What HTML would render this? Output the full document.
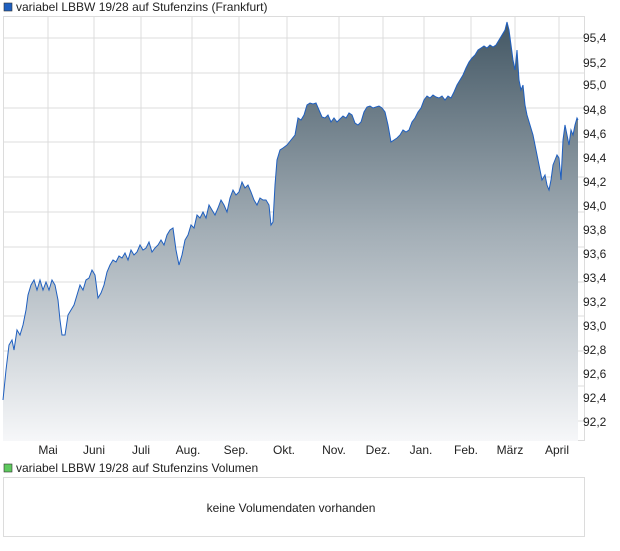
<!DOCTYPE html>
<html><head><meta charset="utf-8"><style>
body{margin:0;background:#fff;width:620px;height:546px;overflow:hidden;font-family:"Liberation Sans",sans-serif}
</style></head><body>
<svg width="620" height="546" xmlns="http://www.w3.org/2000/svg" font-family="Liberation Sans, sans-serif">
<defs><linearGradient id="g" x1="0" y1="0" x2="0" y2="1">
<stop offset="0" stop-color="#435764"/><stop offset="0.5" stop-color="#a3aeb6"/><stop offset="1" stop-color="#f6f7f9"/></linearGradient></defs>
<rect x="4" y="3" width="8" height="8" fill="#1f5fbf" stroke="#333" stroke-width="0.6"/>
<text x="16" y="11" font-size="12" fill="#222">variabel LBBW 19/28 auf Stufenzins (Frankfurt)</text>
<g stroke="#dcdcdc" stroke-width="1">
<rect x="3.5" y="16.5" width="581" height="424" fill="#fff"/>
<path d="M48 17V441M94 17V441M141 17V441M192 17V441M239 17V441M287 17V441M339 17V441M383 17V441M424 17V441M471 17V441M515 17V441M559 17V441"/>
<path d="M4 38H585M4 73H585M4 108H585M4 142H585M4 177H585M4 212H585M4 247H585M4 282H585M4 316H585M4 351H585M4 386H585M4 421H585"/>
</g>
<path id="d" fill="url(#g)" stroke="none" d="M3,400 L6,370 9,345 12,340 14,350 17,330 20,335 23,325 26,310 28,295 31,285 34,280 37,290 40,280 43,290 46,282 49,290 52,280 55,285 58,300 60,320 62,335 65,335 68,315 71,310 74,305 77,295 80,285 83,290 86,280 89,278 92,270 95,275 98,298 101,293 104,285 107,272 110,265 113,260 116,262 119,256 122,258 125,253 128,260 131,250 134,255 137,252 140,245 143,250 146,248 149,242 152,252 155,248 158,245 161,240 164,245 167,235 170,230 173,228 176,250 179,265 182,255 185,240 188,235 191,225 194,228 197,215 200,218 203,212 206,218 209,205 212,210 215,215 218,208 221,200 224,205 227,212 230,198 233,190 236,195 239,192 242,182 245,188 248,185 251,192 254,200 257,205 260,198 263,200 266,200 269,205 271,225 273,222 275,185 277,160 280,150 283,148 287,145 291,140 295,135 298,118 301,120 304,115 307,105 310,103 313,104 316,103 319,110 322,117 325,118 328,115 331,122 334,118 337,122 340,119 343,116 346,118 349,113 352,115 355,123 358,125 361,122 364,112 367,107 370,106 373,108 376,107 379,106 382,108 385,112 388,125 391,142 394,140 397,138 400,135 403,130 406,132 409,130 412,122 415,118 418,112 421,108 424,100 427,96 430,98 433,95 436,97 439,98 442,96 445,100 448,96 451,98 454,92 457,85 460,80 463,75 466,68 469,62 472,58 475,55 478,50 481,48 484,46 487,48 490,45 493,47 496,45 499,40 502,35 505,30 507,22 509,30 511,45 513,60 515,70 517,50 519,80 521,90 523,85 525,105 527,115 530,125 533,135 536,150 538,160 540,170 542,180 545,175 547,185 549,190 551,180 553,165 555,160 557,155 559,158 561,180 563,140 565,125 567,135 569,145 571,130 573,135 575,125 577,118 578,120 L578,441 L3,441 Z"/>
<path fill="none" stroke="#1f5fbf" stroke-width="1" d="M3,400 L6,370 9,345 12,340 14,350 17,330 20,335 23,325 26,310 28,295 31,285 34,280 37,290 40,280 43,290 46,282 49,290 52,280 55,285 58,300 60,320 62,335 65,335 68,315 71,310 74,305 77,295 80,285 83,290 86,280 89,278 92,270 95,275 98,298 101,293 104,285 107,272 110,265 113,260 116,262 119,256 122,258 125,253 128,260 131,250 134,255 137,252 140,245 143,250 146,248 149,242 152,252 155,248 158,245 161,240 164,245 167,235 170,230 173,228 176,250 179,265 182,255 185,240 188,235 191,225 194,228 197,215 200,218 203,212 206,218 209,205 212,210 215,215 218,208 221,200 224,205 227,212 230,198 233,190 236,195 239,192 242,182 245,188 248,185 251,192 254,200 257,205 260,198 263,200 266,200 269,205 271,225 273,222 275,185 277,160 280,150 283,148 287,145 291,140 295,135 298,118 301,120 304,115 307,105 310,103 313,104 316,103 319,110 322,117 325,118 328,115 331,122 334,118 337,122 340,119 343,116 346,118 349,113 352,115 355,123 358,125 361,122 364,112 367,107 370,106 373,108 376,107 379,106 382,108 385,112 388,125 391,142 394,140 397,138 400,135 403,130 406,132 409,130 412,122 415,118 418,112 421,108 424,100 427,96 430,98 433,95 436,97 439,98 442,96 445,100 448,96 451,98 454,92 457,85 460,80 463,75 466,68 469,62 472,58 475,55 478,50 481,48 484,46 487,48 490,45 493,47 496,45 499,40 502,35 505,30 507,22 509,30 511,45 513,60 515,70 517,50 519,80 521,90 523,85 525,105 527,115 530,125 533,135 536,150 538,160 540,170 542,180 545,175 547,185 549,190 551,180 553,165 555,160 557,155 559,158 561,180 563,140 565,125 567,135 569,145 571,130 573,135 575,125 577,118 578,120"/>
<g font-size="12" fill="#222">
<text x="583" y="42">95,4</text><text x="583" y="67">95,2</text><text x="583" y="89">95,0</text><text x="583" y="114">94,8</text><text x="583" y="138">94,6</text><text x="583" y="162">94,4</text><text x="583" y="186">94,2</text><text x="583" y="210">94,0</text><text x="583" y="234">93,8</text><text x="583" y="258">93,6</text><text x="583" y="282">93,4</text><text x="583" y="306">93,2</text><text x="583" y="330">93,0</text><text x="583" y="354">92,8</text><text x="583" y="378">92,6</text><text x="583" y="402">92,4</text><text x="583" y="426">92,2</text>
</g>
<g font-size="12" fill="#222" text-anchor="middle">
<text x="48" y="454">Mai</text><text x="94" y="454">Juni</text><text x="141" y="454">Juli</text><text x="188" y="454">Aug.</text><text x="236" y="454">Sep.</text><text x="284" y="454">Okt.</text><text x="334" y="454">Nov.</text><text x="378" y="454">Dez.</text><text x="421" y="454">Jan.</text><text x="466" y="454">Feb.</text><text x="510" y="454">März</text><text x="557" y="454">April</text>
</g>
<rect x="4" y="464" width="8" height="8" fill="#5ec95e" stroke="#333" stroke-width="0.6"/>
<text x="16" y="472" font-size="12" fill="#222">variabel LBBW 19/28 auf Stufenzins Volumen</text>
<rect x="3.5" y="477.5" width="581" height="59" fill="#fff" stroke="#dcdcdc"/>
<text x="291" y="512" font-size="12" fill="#222" text-anchor="middle">keine Volumendaten vorhanden</text>
</svg>
</body></html>
